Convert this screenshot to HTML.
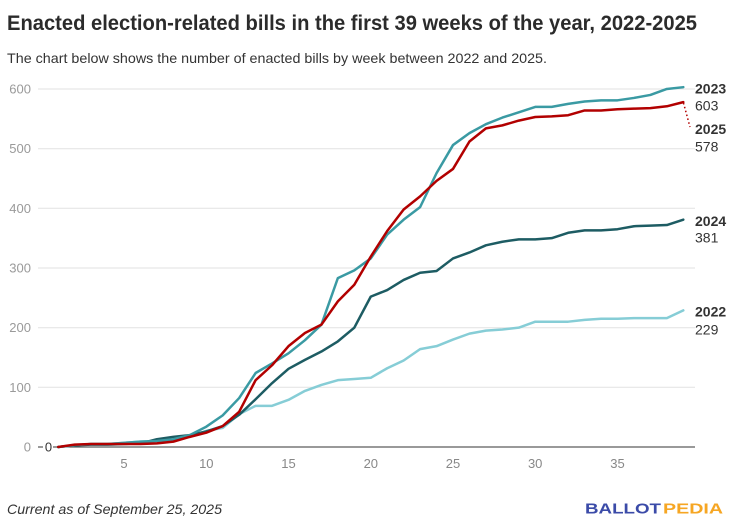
<!DOCTYPE html>
<html>
<head>
<meta charset="utf-8">
<style>
html,body{margin:0;padding:0;background:#fff;}
svg{display:block;font-family:"Liberation Sans",sans-serif;}
</style>
</head>
<body>
<svg width="733" height="523" viewBox="0 0 733 523" xmlns="http://www.w3.org/2000/svg">
<rect width="733" height="523" fill="#fff"/>
<text x="7" y="30" font-size="21" font-weight="bold" fill="#2b2b2b" textLength="690" lengthAdjust="spacingAndGlyphs">Enacted election-related bills in the first 39 weeks of the year, 2022-2025</text>
<text x="7" y="63" font-size="14" fill="#333" textLength="540" lengthAdjust="spacingAndGlyphs">The chart below shows the number of enacted bills by week between 2022 and 2025.</text>

<g stroke="#e2e2e2" stroke-width="1">
<line x1="38" y1="89" x2="695" y2="89"/>
<line x1="38" y1="148.7" x2="695" y2="148.7"/>
<line x1="38" y1="208.3" x2="695" y2="208.3"/>
<line x1="38" y1="268" x2="695" y2="268"/>
<line x1="38" y1="327.7" x2="695" y2="327.7"/>
<line x1="38" y1="387.3" x2="695" y2="387.3"/>
</g>
<g font-size="13" fill="#9a9a9a" text-anchor="end">
<text x="31" y="93.5">600</text>
<text x="31" y="153.2">500</text>
<text x="31" y="212.8">400</text>
<text x="31" y="272.5">300</text>
<text x="31" y="332.2">200</text>
<text x="31" y="391.8">100</text>
<text x="31" y="451.5">0</text>
</g>
<line x1="38" y1="447" x2="43" y2="447" stroke="#333" stroke-width="1"/>
<line x1="53" y1="447" x2="695" y2="447" stroke="#333" stroke-width="1"/>
<text x="48.5" y="451.5" font-size="13" fill="#333" text-anchor="middle">0</text>

<g font-size="13" fill="#888" text-anchor="middle">
<text x="124" y="468">5</text>
<text x="206.3" y="468">10</text>
<text x="288.5" y="468">15</text>
<text x="370.8" y="468">20</text>
<text x="453" y="468">25</text>
<text x="535.2" y="468">30</text>
<text x="617.5" y="468">35</text>
</g>

<g transform="translate(58.2,447) scale(16.45,-0.5967)" fill="none" stroke-linejoin="round" stroke-linecap="round">
<polyline vector-effect="non-scaling-stroke" stroke="#86cdd6" stroke-width="2.5" points="0,0 1,3 2,5 3,5 4,7 5,9 6,10 7,12 8,17 9,27 10,32 11,55 12,69 13,69 14,79 15,94 16,104 17,112 18,114 19,116 20,132 21,145 22,164 23,169 24,180 25,190 26,195 27,197 28,200 29,210 30,210 31,210 32,213 33,215 34,215 35,216 36,216 37,216 38,229"/>
<polyline vector-effect="non-scaling-stroke" stroke="#1d5c63" stroke-width="2.5" points="0,0 1,3 2,4 3,4 4,5 5,6 6,13 7,17 8,20 9,26 10,35 11,54 12,80 13,107 14,131 15,146 16,160 17,177 18,200 19,252 20,263 21,280 22,292 23,295 24,316 25,326 26,338 27,344 28,348 29,348 30,350 31,359 32,363 33,363 34,365 35,370 36,371 37,372 38,381"/>
<polyline vector-effect="non-scaling-stroke" stroke="#3a9aa3" stroke-width="2.5" points="0,0 1,3 2,5 3,5 4,7 5,9 6,10 7,13 8,20 9,34 10,53 11,82 12,124 13,140 14,157 15,179 16,205 17,283 18,296 19,316 20,356 21,381 22,402 23,459 24,506 25,526 26,541 27,552 28,561 29,570 30,570 31,575 32,579 33,581 34,581 35,585 36,590 37,600 38,603"/>
<polyline vector-effect="non-scaling-stroke" stroke="#b20000" stroke-width="2.5" points="0,0 1,4 2,5 3,5 4,5 5,5 6,6 7,9 8,17 9,24 10,35 11,59 12,112 13,137 14,169 15,191 16,205 17,244 18,272 19,319 20,362 21,398 22,420 23,446 24,466 25,512 26,534 27,539 28,547 29,553 30,554 31,556 32,564 33,564 34,566 35,567 36,568 37,571 38,578"/>
</g>
<line x1="683.5" y1="103" x2="690" y2="127" stroke="#b20000" stroke-width="1.5" stroke-dasharray="1.5 2.5"/>

<g font-size="14" fill="#333">
<text x="695" y="93.3" font-weight="bold">2023</text>
<text x="695" y="110.5">603</text>
<text x="695" y="134" font-weight="bold">2025</text>
<text x="695" y="151.7">578</text>
<text x="695" y="226" font-weight="bold">2024</text>
<text x="695" y="242.7">381</text>
<text x="695" y="316.7" font-weight="bold">2022</text>
<text x="695" y="334.3">229</text>
</g>

<text x="7" y="514" font-size="14" font-style="italic" fill="#333" textLength="215" lengthAdjust="spacingAndGlyphs">Current as of September 25, 2025</text>
<text x="585" y="513.3" font-size="15" font-weight="bold" fill="#3b4ba8" textLength="76" lengthAdjust="spacingAndGlyphs">BALLOT</text>
<text x="663" y="513.3" font-size="15" font-weight="bold" fill="#f6a623" textLength="60" lengthAdjust="spacingAndGlyphs">PEDIA</text>
</svg>
</body>
</html>
